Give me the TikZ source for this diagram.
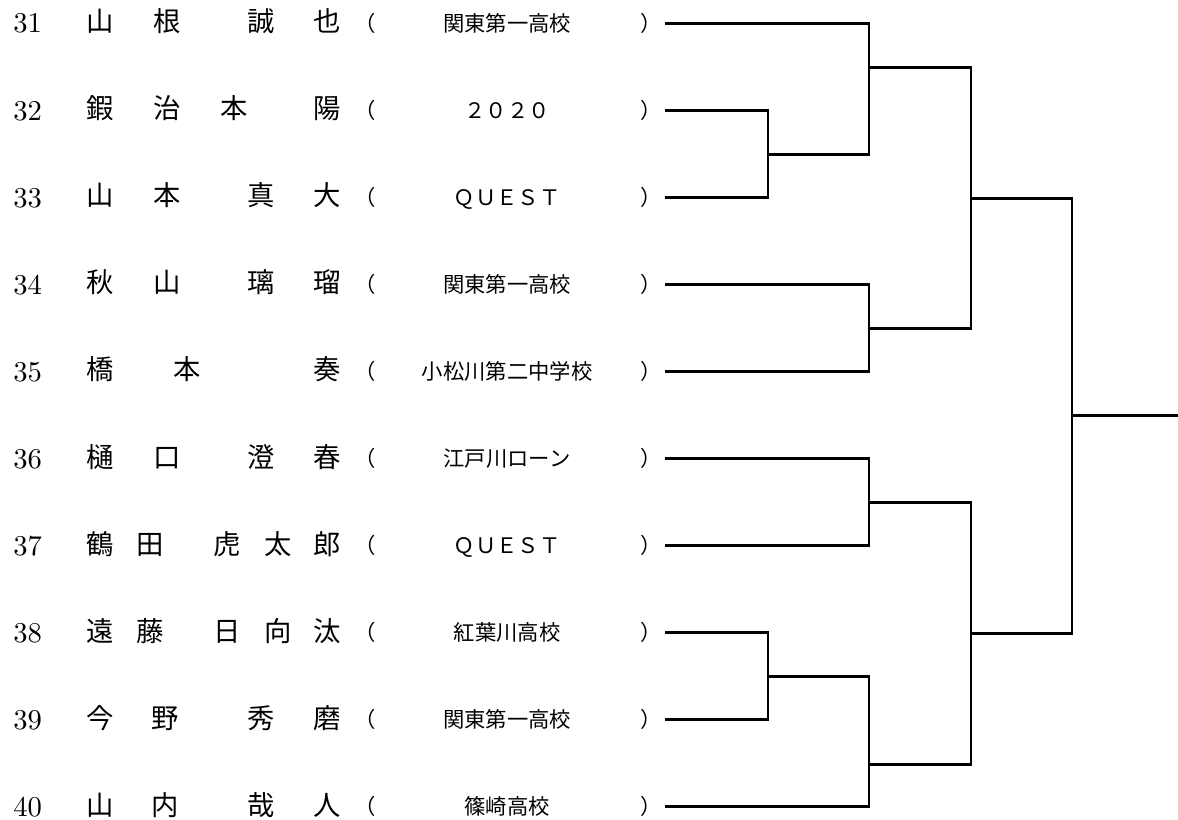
\documentclass[tikz,border=0pt]{standalone}
\usepackage{fontspec}
\newfontfamily\cjk{Noto Sans CJK JP}
\usetikzlibrary{calc}

\begin{document}
\begin{tikzpicture}[
			x=0.75pt, y=-0.75pt,
			num/.style={font=\fontsize{10}{12}\selectfont, anchor=base west, inner sep=0pt},
			nmch/.style={font=\cjk\fontsize{20.5}{23}\selectfont, anchor=base, inner sep=0pt},
			school/.style={font=\cjk\fontsize{16}{19}\selectfont, anchor=base, inner sep=0pt},
			br/.style={line width=2.1pt}
		]

		\useasboundingbox (0,0) rectangle (1178,820);

		\foreach \i/\sc/\nm [evaluate=\i as \y using 23.3+87.04*(\i-31)] in {
				31/関東第一高校/{100/山,167/根,261/誠,327/也},
				32/２０２０/{100/鍜,167/治,234/本,327/陽},
				33/ＱＵＥＳＴ/{100/山,167/本,261/真,327/大},
				34/関東第一高校/{100/秋,167/山,261/璃,327/瑠},
				35/小松川第二中学校/{100/橋,187/本,327/奏},
				36/江戸川ローン/{100/樋,167/口,261/澄,327/春},
				37/ＱＵＥＳＴ/{100/鶴,150/田,227/虎,278/太,327/郎},
				38/紅葉川高校/{100/遠,150/藤,227/日,278/向,327/汰},
				39/関東第一高校/{100/今,165/野,261/秀,327/磨},
				40/篠崎高校/{100/山,165/内,261/哉,327/人}} {
			\node[num] (no\i) at (13,\y+9.7) {\scalebox{2.15}{\i}};
			\foreach \x/\c [count=\k] in \nm
				\node[nmch] (nm\i-\k) at (\x,\y+8.5) {\c};
			\node[school] (lp\i) at (365,\y+8) {（};
			\node[school] (sc\i) at (507,\y+8) {\sc};
			\node[school] (rp\i) at (651,\y+8) {）};
			\coordinate (e\i) at (665,\y);
		}

		\coordinate (j1) at (768,154.3);
		\coordinate (j2) at (869,67.3);
		\coordinate (j3) at (869,328.3);
		\coordinate (j4) at (971,198.7);
		\coordinate (j5) at (869,502.7);
		\coordinate (j6) at (768,676.3);
		\coordinate (j7) at (869,764.3);
		\coordinate (j8) at (971,633.3);
		\coordinate (j9) at (1072,415.7);
		\coordinate (win) at (1178,415.7);

		\draw[br] (e32) -| (j1) |- (e33);
		\draw[br] (e31) -| (j2) |- (j1);
		\draw[br] (e34) -| (j3) |- (e35);
		\draw[br] (j2) -| (j4) |- (j3);
		\draw[br] (e36) -| (j5) |- (e37);
		\draw[br] (e38) -| (j6) |- (e39);
		\draw[br] (j6) -| (j7) |- (e40);
		\draw[br] (j5) -| (j8) |- (j7);
		\draw[br] (j4) -| (j9) |- (j8);
		\draw[br] (j9) -- (win);
	\end{tikzpicture}
\end{document}
